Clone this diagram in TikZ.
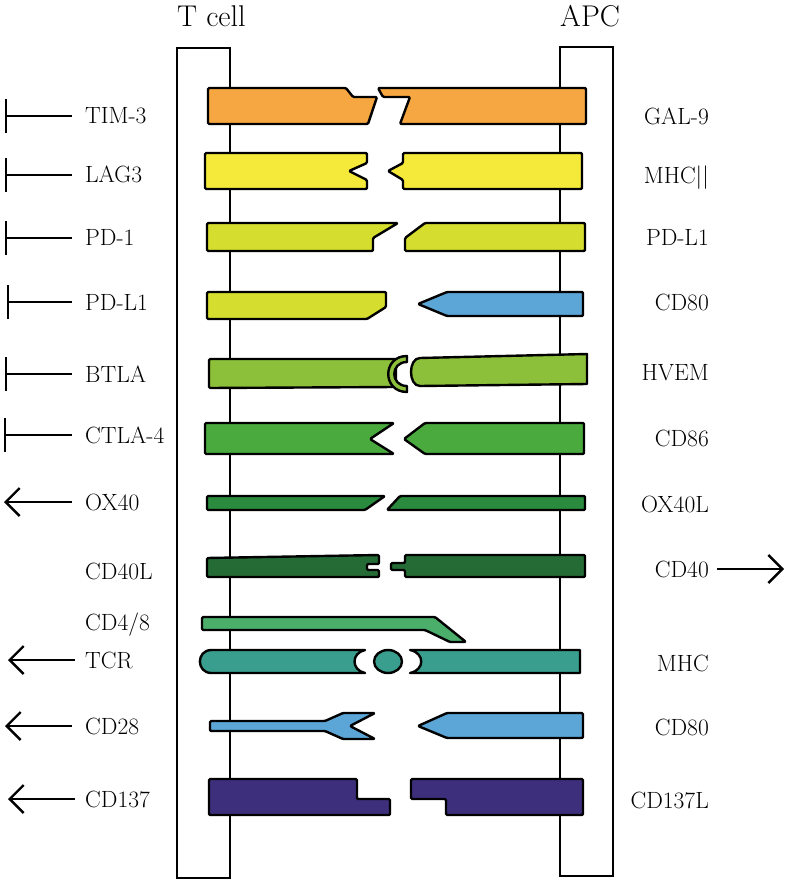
\documentclass[tikz,border=0pt]{standalone}
\usetikzlibrary{arrows.meta}
\definecolor{corange}{RGB}{246,167,66}
\definecolor{cyellow}{RGB}{245,233,58}
\definecolor{cyg}{RGB}{213,222,46}
\definecolor{cblue}{RGB}{91,166,214}
\definecolor{colive}{RGB}{140,191,58}
\definecolor{cgreen}{RGB}{74,170,62}
\definecolor{cox}{RGB}{42,138,62}
\definecolor{cdark}{RGB}{37,107,54}
\definecolor{ccd4}{RGB}{75,174,107}
\definecolor{cteal}{RGB}{58,158,142}
\definecolor{cindigo}{RGB}{62,47,124}
\begin{document}
\begin{tikzpicture}[x=1pt,y=-1pt,
  mol/.style={draw=black,line width=2.4pt,line join=round,rounded corners=1.2pt},
  memb/.style={draw=black,line width=2.4pt,fill=white},
  lab/.style={font=\fontsize{23.5}{27}\selectfont,inner sep=0pt,text height=16pt,text depth=0pt},
  head/.style={font=\fontsize{30}{34}\selectfont,inner sep=0pt,text height=20.5pt,text depth=0pt},
  inh/.style={line width=2.4pt,-{Bar[width=34pt]}},
  act/.style={line width=2.4pt,-{Straight Barb[length=14pt,width=28pt]}}
]
\useasboundingbox (0,0) rectangle (787,882);
\fill[white] (0,0) rectangle (787,882);

% membranes
\draw[memb] (177,48) rectangle (230,878);
\draw[memb] (560,47) rectangle (613,876);

% headers
\node[head,anchor=west] (tcell) at (177,16) {T cell};
\node[head,anchor=west] (apc) at (560,16) {APC};

% TIM-3 / GAL-9
\draw[mol,fill=corange] (208,88) -- (346,88) -- (353,97) -- (377,97) -- (368,124) -- (208,124) -- cycle;
\draw[mol,fill=corange] (378,88) -- (586,88) -- (586,124) -- (400,124) -- (410,97) -- (383,97) -- cycle;
% LAG3 / MHCII
\draw[mol,fill=cyellow] (205,153) -- (367,153) -- (367,163) -- (349,171) -- (367,180) -- (367,189) -- (205,189) -- cycle;
\draw[mol,fill=cyellow] (403,153) -- (582,153) -- (582,189) -- (403,189) -- (403,180) -- (388,171) -- (403,163) -- cycle;
% PD-1 / PD-L1
\draw[mol,fill=cyg] (207,223) -- (398,223) -- (373,238) -- (373,251) -- (207,251) -- cycle;
\draw[mol,fill=cyg] (425,223) -- (585,223) -- (585,251) -- (405,251) -- (405,238) -- cycle;
% PD-L1 / CD80
\draw[mol,fill=cyg] (207,292) -- (386,292) -- (386,307) -- (367,319) -- (207,319) -- cycle;
\draw[mol,fill=cblue] (447,292) -- (583,292) -- (583,316) -- (447,316) -- (418,304) -- cycle;
% BTLA / HVEM
\draw[mol,fill=colive] (209,359) -- (396,359) -- (396,387) -- (209,388) -- cycle;
\draw[mol,fill=colive,rounded corners=0pt] (407,356) .. controls (382,356) and (382,392) .. (407,392) -- (407,386) .. controls (390,386) and (390,362) .. (407,362) -- cycle;
\draw[mol,fill=colive,rounded corners=0pt] (587,354) -- (420,358) .. controls (408,358) and (408,386) .. (420,386) -- (587,384) -- cycle;
% CTLA-4 / CD86
\draw[mol,fill=cgreen] (205,423) -- (394,423) -- (370,439) -- (394,454) -- (205,454) -- cycle;
\draw[mol,fill=cgreen] (425,423) -- (584,423) -- (584,454) -- (425,454) -- (404,439) -- cycle;
% OX40 / OX40L
\draw[mol,fill=cox] (207,496) -- (385,496) -- (365,510) -- (207,510) -- cycle;
\draw[mol,fill=cox] (400,496) -- (585,496) -- (585,510) -- (387,510) -- cycle;
% CD40L / CD40
\draw[mol,fill=cdark] (207,558) -- (379,555) -- (379,564) -- (367,564) -- (367,570) -- (379,570) -- (379,577) -- (207,577) -- cycle;
\draw[mol,fill=cdark] (405,555) -- (585,555) -- (585,577) -- (405,577) -- (405,570) -- (391,570) -- (391,563) -- (405,563) -- cycle;
% CD4/8
\draw[mol,fill=ccd4] (202,617) -- (435,617) -- (466,642) -- (450,642) -- (425,630) -- (202,630) -- cycle;
% TCR / MHC
\draw[mol,fill=cteal,rounded corners=0pt] (365,650) -- (211.5,650) .. controls (196,650) and (196,673) .. (211.5,673) -- (365,673) .. controls (351,670) and (351,653) .. (365,650) -- cycle;
\draw[mol,fill=cteal] (388,661.5) ellipse[x radius=14,y radius=11.5];
\draw[mol,fill=cteal,rounded corners=0pt] (580,650) -- (580,673) -- (410,673) .. controls (425,670) and (425,653) .. (410,650) -- cycle;
% CD28 / CD80
\draw[mol,fill=cblue] (210,721) -- (325,721) -- (343,713) -- (375,713) -- (350,726) -- (375,739) -- (343,739) -- (325,731) -- (210,731) -- cycle;
\draw[mol,fill=cblue] (447,713) -- (583,713) -- (583,738) -- (447,738) -- (418,726) -- cycle;
% CD137 / CD137L
\draw[mol,fill=cindigo] (209,779) -- (357,779) -- (357,799) -- (390,799) -- (390,815) -- (209,815) -- cycle;
\draw[mol,fill=cindigo] (411,779) -- (583,779) -- (583,815) -- (446,815) -- (446,799) -- (411,799) -- cycle;

% left labels
\node[lab,anchor=west] (ltim) at (85,116) {TIM-3};
\node[lab,anchor=west] (llag) at (85,175) {LAG3};
\node[lab,anchor=west] (lpd1) at (85,238) {PD-1};
\node[lab,anchor=west] (lpdl) at (85,302) {PD-L1};
\node[lab,anchor=west] (lbtla) at (85,374) {BTLA};
\node[lab,anchor=west] (lctla) at (85,435) {CTLA-4};
\node[lab,anchor=west] (lox) at (85,502) {OX40};
\node[lab,anchor=west] (lcd40l) at (85,571) {CD40L};
\node[lab,anchor=west] (lcd48) at (85,622) {CD4/8};
\node[lab,anchor=west] (ltcr) at (85,660) {TCR};
\node[lab,anchor=west] (lcd28) at (85,726) {CD28};
\node[lab,anchor=west] (lcd137) at (85,799) {CD137};

% right labels
\node[lab,anchor=east] (rgal) at (709,117) {GAL-9};
\node[lab,anchor=east] (rmhc2) at (709,176) {MHC||};
\node[lab,anchor=east] (rpdl) at (709,238) {PD-L1};
\node[lab,anchor=east] (rcd80a) at (709,302) {CD80};
\node[lab,anchor=east] (rhvem) at (709,372) {HVEM};
\node[lab,anchor=east] (rcd86) at (709,438) {CD86};
\node[lab,anchor=east] (rox) at (709,504) {OX40L};
\node[lab,anchor=east] (rcd40) at (709,569) {CD40};
\node[lab,anchor=east] (rmhc) at (709,663) {MHC};
\node[lab,anchor=east] (rcd80b) at (709,727) {CD80};
\node[lab,anchor=east] (rcd137) at (709,800) {CD137L};

% free ends
\coordinate (etim) at (5,116);
\coordinate (elag) at (5,175);
\coordinate (epd1) at (5,238);
\coordinate (epdl) at (7,302);
\coordinate (ebtla) at (5,374);
\coordinate (ectla) at (4,435);
\coordinate (eox) at (4,502);
\coordinate (etcr) at (8,660);
\coordinate (ecd28) at (5,726);
\coordinate (ecd137) at (8,799);
\coordinate (ecd40) at (784,569);

\draw[inh] ([xshift=-13pt]ltim.west) -- (etim);
\draw[inh] ([xshift=-13pt]llag.west) -- (elag);
\draw[inh] ([xshift=-13pt]lpd1.west) -- (epd1);
\draw[inh] ([xshift=-13pt]lpdl.west) -- (epdl);
\draw[inh] ([xshift=-13pt]lbtla.west) -- (ebtla);
\draw[inh] ([xshift=-13pt]lctla.west) -- (ectla);
\draw[act] ([xshift=-13pt]lox.west) -- (eox);
\draw[act] ([xshift=-10pt]ltcr.west) -- (etcr);
\draw[act] ([xshift=-13pt]lcd28.west) -- (ecd28);
\draw[act] ([xshift=-10pt]lcd137.west) -- (ecd137);
\draw[act] ([xshift=8pt]rcd40.east) -- (ecd40);
\end{tikzpicture}
\end{document}
